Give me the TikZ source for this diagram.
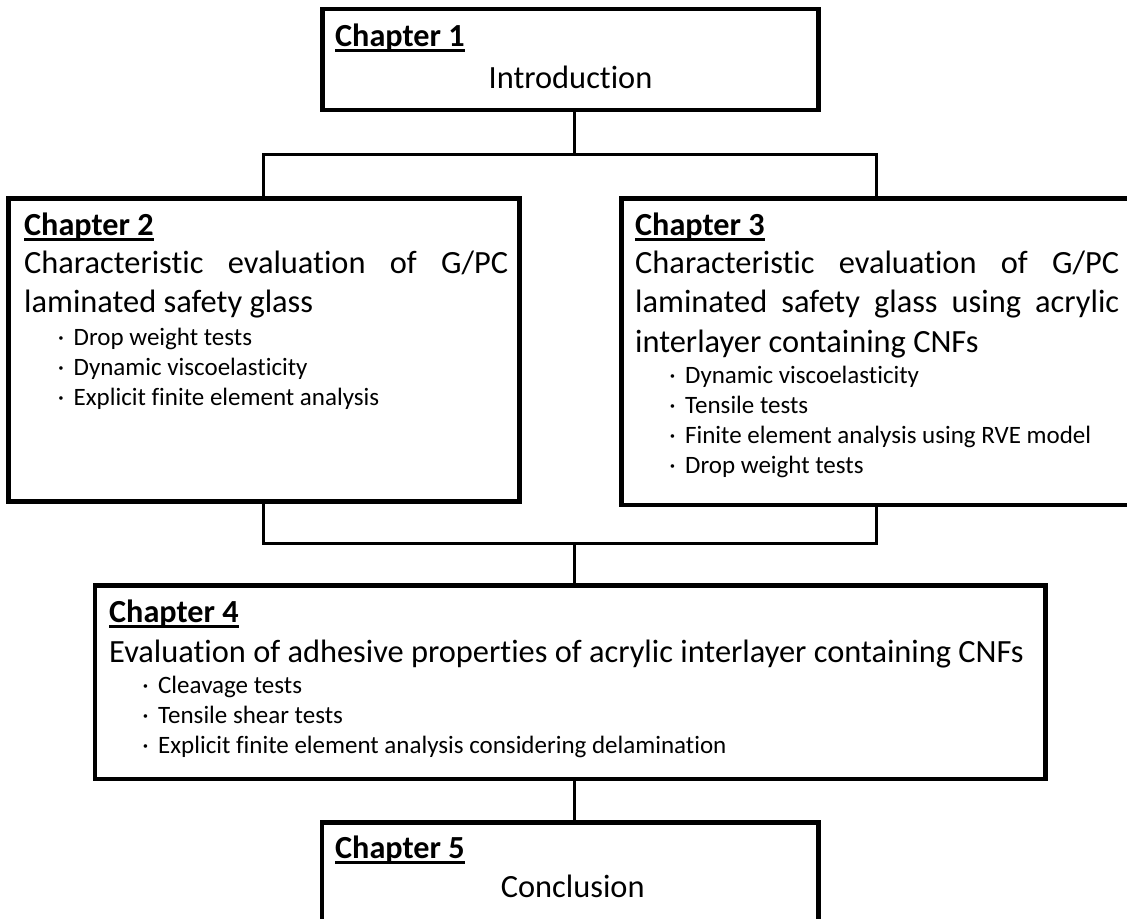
\documentclass[tikz,border=0pt]{standalone}
\usepackage{fontspec}
\setmainfont{Carlito}[Ligatures=NoCommon]
\newcommand{\chapdot}{\llap{\textperiodcentered\hspace{9.5bp}}}

\begin{document}
\begin{tikzpicture}[x=1bp, y=-1bp]
        \tikzstyle{chapbox} = [rectangle, draw=black, line width=4.5bp, outer sep=0pt, inner sep=0pt, anchor=north west]
        \tikzstyle{chaplabel} = [inner sep=0pt, anchor=base west, font=\fontsize{32.2bp}{39.5bp}\selectfont\bfseries]
        \tikzstyle{title} = [inner sep=0pt, anchor=base west, align=left, font=\fontsize{32.4bp}{39.5bp}\selectfont]
        \tikzstyle{points} = [inner sep=0pt, anchor=base west, align=left, font=\fontsize{25bp}{30bp}\selectfont]
        \tikzstyle{link} = [line width=3bp]
        \tikzstyle{uline} = [line width=2.2bp]

        \useasboundingbox (0,0) rectangle (1127,919);
        \fill[white] (0,0) rectangle (1127,919);
        \clip (0,0) rectangle (1127,919);

        % boxes
        \node (ch1) [chapbox, minimum width=496bp, minimum height=101bp] at (322.5,9.2) {};
        \node (ch2) [chapbox, minimum width=511bp, minimum height=303.4bp] at (8.7,198.3) {};
        \node (ch3) [chapbox, minimum width=511bp, minimum height=306.7bp] at (621.7,198.3) {};
        \node (ch4) [chapbox, minimum width=950.5bp, minimum height=193.5bp] at (95,585.5) {};
        \node (ch5) [chapbox, minimum width=496.5bp, minimum height=101bp] at (322,822.5) {};

        % chapter 1
        \node (lab1) [chaplabel] at ([shift={(12.5,36.8)}]ch1.north west) {Chapter 1};
        \node (intro) [title, anchor=base] at ([shift={(0,78.8)}]ch1.north) {Introduction};

        % chapter 2 (multi-line nodes sit on their last baseline)
        \node (lab2) [chaplabel] at ([shift={(15.3,36.7)}]ch2.north west) {Chapter 2};
        \node (title2) [title] at ([shift={(15.3,114.2)}]ch2.north west)
            {\makebox[484bp][s]{Characteristic evaluation of G/PC}\\laminated safety glass};
        \node (points2) [points] at ([shift={(64.8,206.7)}]ch2.north west)
            {\chapdot Drop weight tests\\\chapdot Dynamic viscoelasticity\\\chapdot Explicit finite element analysis};

        % chapter 3
        \node (lab3) [chaplabel] at ([shift={(13.3,36.7)}]ch3.north west) {Chapter 3};
        \node (title3) [title] at ([shift={(13.3,153.7)}]ch3.north west)
            {\makebox[484bp][s]{Characteristic evaluation of G/PC}\\\makebox[484bp][s]{laminated safety glass using acrylic}\\interlayer containing CNFs};
        \node (points3) [points] at ([shift={(63.3,274.7)}]ch3.north west)
            {\chapdot Dynamic viscoelasticity\\\chapdot Tensile tests\\\chapdot Finite element analysis using RVE model\\\chapdot Drop weight tests};

        % chapter 4
        \node (lab4) [chaplabel] at ([shift={(14,36.5)}]ch4.north west) {Chapter 4};
        \node (title4) [title] at ([shift={(14,76.5)}]ch4.north west)
            {Evaluation of adhesive properties of acrylic interlayer containing CNFs};
        \node (points4) [points] at ([shift={(63,167.5)}]ch4.north west)
            {\chapdot Cleavage tests\\\chapdot Tensile shear tests\\\chapdot Explicit finite element analysis considering delamination};

        % chapter 5
        \node (lab5) [chaplabel] at ([shift={(13,35.5)}]ch5.north west) {Chapter 5};
        \node (concl) [title, anchor=base] at ([shift={(2.5,74.5)}]ch5.north) {Conclusion};

        \foreach \lab in {lab1,lab2,lab3,lab4,lab5}
            \draw [uline] ([yshift=-4.5bp]\lab.base west) -- ([yshift=-4.5bp]\lab.base east);

        % connectors
        \coordinate (f1) at (574,154.3);
        \coordinate (f1w) at (263,154.3);
        \coordinate (f1e) at (876,154.3);
        \coordinate (f2) at (574,543.3);
        \coordinate (f2w) at (263,543.3);
        \coordinate (f2e) at (876,543.3);

        \draw [link] (ch1.south -| f1) -- (f1);
        \draw [link] (ch2.north -| f1w) -- (f1w) -- (f1e) -- (ch3.north -| f1e);
        \draw [link] (ch2.south -| f2w) -- (f2w) -- (f2e) -- (ch3.south -| f2e);
        \draw [link] (f2) -- (ch4.north -| f2);
        \draw [link] (ch4.south -| f2) -- (ch5.north -| f2);
    \end{tikzpicture}
\end{document}
